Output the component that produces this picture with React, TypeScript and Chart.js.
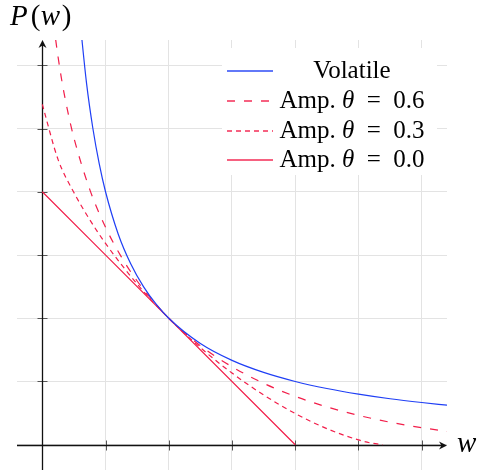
import React, { useEffect, useRef } from "react";
import { Chart, registerables } from "chart.js";

Chart.register(...registerables);

// ---- data ----
const seriesLabels = ["Volatile", "Amp. θ = 0.6", "Amp. θ = 0.3", "Amp. θ = 0.0"];

const wVolatile = [0.6, 0.7, 0.8, 0.9, 1.0, 1.2, 1.4, 1.6, 1.8, 2.0, 2.5, 3.0, 3.5, 4.0, 4.5, 5.0, 5.5, 6.0, 6.4];
const pVolatile = [6.667, 5.714, 5.0, 4.444, 4.0, 3.333, 2.857, 2.5, 2.222, 2.0, 1.6, 1.333, 1.143, 1.0, 0.889, 0.8, 0.727, 0.667, 0.625];

const wTheta06 = [0.15, 0.2, 0.3, 0.4, 0.5, 0.75, 1.0, 1.25, 1.5, 2.0, 2.5, 3.0, 3.5, 4.0, 4.5, 5.0, 5.5, 6.0, 6.4];
const pTheta06 = [6.94, 6.495, 5.808, 5.282, 4.852, 4.038, 3.439, 2.97, 2.589, 2.0, 1.565, 1.233, 0.971, 0.764, 0.598, 0.464, 0.356, 0.269, 0.211];

const wTheta03 = [0, 0.25, 0.5, 0.75, 1.0, 1.5, 2.0, 2.5, 3.0, 3.5, 4.0, 4.5, 5.0, 5.2, 5.383];
const pTheta03 = [5.383, 4.509, 3.988, 3.559, 3.183, 2.541, 2.0, 1.535, 1.133, 0.787, 0.4935, 0.254, 0.0754, 0.0261, 0];

const wTheta00 = [0, 4];
const pTheta00 = [4, 0];

const axisMin = -0.4;
const axisMax = 6.4;
const gridTicks = [0, 1, 2, 3, 4, 5, 6];

const BLUE = "#1f3ff5";
const RED = "#f21e4a";
const seriesColors = [BLUE, RED, RED, RED];
const seriesDashes: number[][] = [[], [8, 9], [5, 4], []];

const toPoints = (ws: number[], ps: number[]) => ws.map((w, i) => ({ x: w, y: ps[i] }));

const SERIF = '"Liberation Serif", "DejaVu Serif", serif';

function arrowHead(ctx: CanvasRenderingContext2D, x: number, y: number, dir: "right" | "up") {
  ctx.save();
  ctx.translate(x, y);
  if (dir === "up") ctx.rotate(-Math.PI / 2);
  ctx.beginPath();
  ctx.moveTo(0, 0);
  ctx.lineTo(-8, -4);
  ctx.lineTo(-5.5, 0);
  ctx.lineTo(-8, 4);
  ctx.closePath();
  ctx.fillStyle = "#111";
  ctx.fill();
  ctx.restore();
}

const decorPlugin = {
  id: "decor",
  beforeDatasetsDraw(chart: any) {
    const ctx: CanvasRenderingContext2D = chart.ctx;
    const xs = chart.scales.x;
    const ys = chart.scales.y;
    const x0 = Math.round(xs.getPixelForValue(0)) + 0.5;
    const y0 = Math.round(ys.getPixelForValue(0)) + 0.5;
    const left = xs.getPixelForValue(axisMin);
    const right = xs.getPixelForValue(axisMax);
    const top = ys.getPixelForValue(axisMax);
    const bottom = ys.getPixelForValue(axisMin);
    ctx.save();
    ctx.strokeStyle = "#555";
    ctx.lineWidth = 1;
    for (const t of gridTicks) {
      if (t === 0) continue;
      const px = Math.round(xs.getPixelForValue(t)) + 0.5;
      ctx.beginPath();
      ctx.moveTo(px, y0 - 5);
      ctx.lineTo(px, y0 + 5);
      ctx.stroke();
      const py = Math.round(ys.getPixelForValue(t)) + 0.5;
      ctx.beginPath();
      ctx.moveTo(x0 - 5, py);
      ctx.lineTo(x0 + 5, py);
      ctx.stroke();
    }
    ctx.strokeStyle = "#111";
    ctx.lineWidth = 1.3;
    ctx.beginPath();
    ctx.moveTo(left, y0);
    ctx.lineTo(right - 3, y0);
    ctx.stroke();
    ctx.beginPath();
    ctx.moveTo(x0, bottom);
    ctx.lineTo(x0, top + 3);
    ctx.stroke();
    arrowHead(ctx, right, y0, "right");
    arrowHead(ctx, x0, top, "up");
    ctx.restore();
  },
  afterDraw(chart: any) {
    const ctx: CanvasRenderingContext2D = chart.ctx;
    ctx.save();
    ctx.fillStyle = "#000";
    ctx.textBaseline = "alphabetic";
    const italic = `italic 29px ${SERIF}`;
    const upright = `29px ${SERIF}`;
    let x = 10;
    const yb = 25;
    const parts: [string, string, number][] = [
      ["P", italic, 3],
      ["(", upright, 0.5],
      ["w", italic, 1.5],
      [")", upright, 0],
    ];
    for (const [t, f, gap] of parts) {
      ctx.font = f;
      ctx.fillText(t, x, yb);
      x += ctx.measureText(t).width + gap;
    }
    ctx.font = italic;
    ctx.fillText("w", 457, 452);

    // legend
    ctx.fillStyle = "#fff";
    ctx.fillRect(222, 48, 215, 127);
    const rowsY = [70, 100, 129.5, 159];
    seriesLabels.forEach((label, i) => {
      const cy = Math.round(rowsY[i]);
      const dash = seriesDashes[i];
      ctx.save();
      ctx.globalAlpha = 0.7;
      ctx.fillStyle = seriesColors[i];
      if (dash.length === 0) {
        ctx.fillRect(227, cy, 46, 2);
      } else {
        let px = 227;
        let on = true;
        let j = 0;
        while (px < 273) {
          const len = dash[j % dash.length];
          const end = Math.min(273, px + len);
          if (on) ctx.fillRect(px, cy, end - px, 2);
          px = end;
          on = !on;
          j++;
        }
      }
      ctx.restore();
      const segs: [string, string][] = [];
      const k = label.indexOf("θ");
      const up = `25px ${SERIF}`;
      const it = `italic 25px ${SERIF}`;
      if (k >= 0) {
        segs.push([label.slice(0, k), up]);
        segs.push(["θ", it]);
        segs.push([label.slice(k + 1).replace(" = ", "  =  "), up]);
      } else {
        segs.push([label, up]);
      }
      let w = 0;
      for (const [t, f] of segs) {
        ctx.font = f;
        w += ctx.measureText(t).width;
      }
      let tx = 352 - w / 2;
      ctx.fillStyle = "#000";
      for (const [t, f] of segs) {
        ctx.font = f;
        ctx.fillText(t, tx, rowsY[i] + 8);
        tx += ctx.measureText(t).width;
      }
    });
    ctx.restore();
  },
};

export default function App() {
  const ref = useRef<HTMLCanvasElement>(null);
  useEffect(() => {
    if (!ref.current) return;
    const series = [
      toPoints(wVolatile, pVolatile),
      toPoints(wTheta06, pTheta06),
      toPoints(wTheta03, pTheta03),
      toPoints(wTheta00, pTheta00),
    ];
    const chart = new Chart(ref.current, {
      type: "line",
      data: {
        datasets: series.map((data, i) => ({
          label: seriesLabels[i],
          data,
          borderColor: seriesColors[i],
          borderWidth: 1.2,
          borderDash: seriesDashes[i],
          pointRadius: 0,
          cubicInterpolationMode: "monotone",
          fill: false,
        })),
      },
      options: {
        animation: false,
        responsive: false,
        devicePixelRatio: 1,
        layout: { padding: { left: 17, right: 30, top: 40, bottom: 4 } },
        plugins: { legend: { display: false }, tooltip: { enabled: false } },
        scales: {
          x: {
            type: "linear",
            min: axisMin,
            max: axisMax,
            afterBuildTicks: (s: any) => {
              s.ticks = gridTicks.map((v) => ({ value: v }));
            },
            ticks: { display: false },
            grid: { color: "#e3e3e3", lineWidth: 1, drawTicks: false },
            border: { display: false },
          },
          y: {
            type: "linear",
            min: axisMin,
            max: axisMax,
            afterBuildTicks: (s: any) => {
              s.ticks = gridTicks.map((v) => ({ value: v }));
            },
            ticks: { display: false },
            grid: { color: "#e3e3e3", lineWidth: 1, drawTicks: false },
            border: { display: false },
          },
        },
      } as any,
      plugins: [decorPlugin],
    });
    return () => chart.destroy();
  }, []);
  return (
    <div style={{ position: "fixed", left: 0, top: 0, width: 477, height: 474, background: "#fff" }}>
      <canvas ref={ref} width={477} height={474} style={{ width: 477, height: 474, display: "block" }} />
    </div>
  );
}
